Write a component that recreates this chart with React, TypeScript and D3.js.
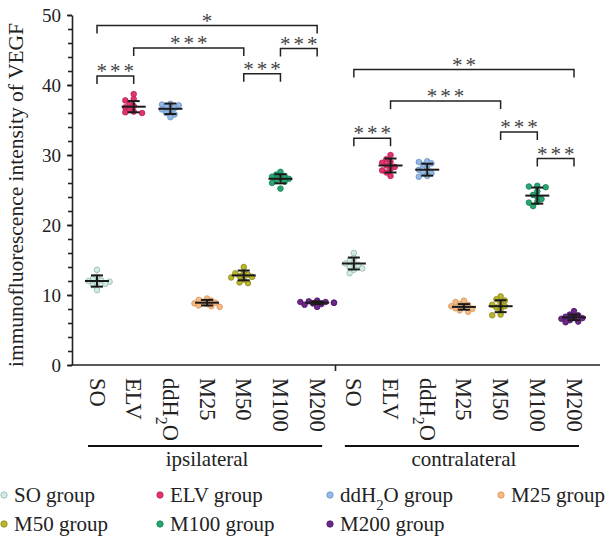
import React, { useEffect, useRef } from 'react';
import * as d3 from 'd3';

// groups and sides
const groups = ['SO', 'ELV', 'ddH2O', 'M25', 'M50', 'M100', 'M200'];
const sides = ['ipsilateral', 'contralateral'];
const groupFill = ['#d2ebe4', '#e2336f', '#94b9e4', '#f6b984', '#bab62c', '#27a672', '#6c2888'];
const groupStroke = ['#8fb9ad', '#b71f53', '#6890c6', '#d8955b', '#8c881a', '#178050', '#4a1663'];

// mean / SD
const ipsiMeans = [12.0, 36.9, 36.6, 8.9, 12.8, 26.6, 8.9];
const ipsiSD = [0.8, 0.8, 0.75, 0.4, 0.7, 0.65, 0.2];
const contraMeans = [14.5, 28.5, 27.9, 8.3, 8.4, 24.2, 6.8];
const contraSD = [0.85, 1.0, 0.85, 0.4, 0.85, 1.15, 0.4];

// individual points
const ipsiPoints = [
  [13.6, 12.6, 12.3, 12.1, 12.0, 11.9, 11.8, 11.6, 11.4, 10.7],
  [38.7, 38.0, 37.8, 37.4, 37.0, 36.8, 36.5, 36.2, 36.0, 36.1],
  [37.3, 37.2, 37.1, 36.9, 36.7, 36.5, 36.3, 36.0, 35.8, 35.4],
  [9.5, 9.3, 9.2, 9.0, 8.9, 8.8, 8.7, 8.5, 8.4, 8.3],
  [14.0, 13.3, 13.1, 12.9, 12.7, 12.6, 12.5, 12.2, 11.8, 11.7],
  [27.6, 27.2, 27.0, 26.9, 26.7, 26.6, 26.4, 26.2, 26.0, 25.2],
  [9.2, 9.1, 9.0, 9.0, 8.9, 8.9, 8.8, 8.7, 8.6, 8.3],
];
const contraPoints = [
  [16.0, 15.3, 14.9, 14.6, 14.5, 14.3, 14.0, 13.8, 13.6, 13.1],
  [30.0, 29.4, 29.0, 28.9, 28.5, 28.3, 28.0, 27.8, 27.5, 27.0],
  [29.1, 29.0, 28.8, 28.6, 28.1, 27.9, 27.6, 27.4, 27.0, 26.9],
  [9.2, 9.0, 8.7, 8.6, 8.4, 8.3, 8.1, 8.0, 7.8, 7.6],
  [9.8, 9.4, 9.2, 8.8, 8.6, 8.4, 8.2, 7.9, 7.2, 7.1],
  [25.6, 25.5, 25.4, 24.8, 24.3, 24.0, 23.7, 23.3, 23.2, 22.7],
  [7.7, 7.2, 7.1, 6.9, 6.8, 6.7, 6.6, 6.4, 6.2, 6.1],
];

// significance brackets (level in y units)
const ipsiBrackets = [
  { from: 'SO', to: 'M200', level: 48.5, label: '*' },
  { from: 'ELV', to: 'M50', level: 45.3, label: '***' },
  { from: 'SO', to: 'ELV', level: 41.3, label: '***' },
  { from: 'M50', to: 'M100', level: 41.6, label: '***' },
  { from: 'M100', to: 'M200', level: 45.2, label: '***' },
];
const contraBrackets = [
  { from: 'SO', to: 'M200', level: 42.2, label: '**' },
  { from: 'ELV', to: 'M50', level: 37.7, label: '***' },
  { from: 'SO', to: 'ELV', level: 32.4, label: '***' },
  { from: 'M50', to: 'M100', level: 33.3, label: '***' },
  { from: 'M100', to: 'M200', level: 29.5, label: '***' },
];

const yTicks = [0, 10, 20, 30, 40, 50];

const serif = '"Liberation Serif", "Times New Roman", serif';
const W = 608;
const H = 543;

const key = (side: string, g: string) => side + '-' + g;

const x = d3
  .scalePoint<string>()
  .domain(sides.flatMap((s) => groups.map((g) => key(s, g))))
  .range([97, 574]);
const y = d3.scaleLinear().domain([0, 50]).range([365, 15]);

const R = 2.8;

// simple deterministic beeswarm offsets (points may overlap a little)
function swarm(values: number[]) {
  const order = values.map((_, i) => i).sort((a, b) => values[b] - values[a]);
  const placed: { dx: number; py: number }[] = [];
  const out = new Array(values.length).fill(0);
  const cands = [0, -1, 1, -2, 2, -3, 3, -4, 4].map((k) => k * R * 1.5);
  for (const i of order) {
    const py = y(values[i]);
    let best = cands[cands.length - 1];
    for (const c of cands) {
      if (placed.every((p) => Math.hypot(p.dx - c, p.py - py) >= 1.6 * R)) {
        best = c;
        break;
      }
    }
    placed.push({ dx: best, py });
    out[i] = best;
  }
  return out;
}

const GroupLabel = ({ name }: { name: string }) =>
  name === 'ddH2O' ? (
    <>
      ddH<tspan baselineShift="sub" fontSize="0.7em">2</tspan>O
    </>
  ) : (
    <>{name}</>
  );

const YAxis = () => {
  const ref = useRef<SVGGElement>(null);
  useEffect(() => {
    const g = d3.select(ref.current);
    g.selectAll('*').remove();
    const minor = g.append('g').call(
      d3.axisLeft(y).tickValues(d3.range(0, 51, 2)).tickSize(4).tickSizeOuter(0).tickFormat(() => '')
    );
    const major = g.append('g').call(
      d3.axisLeft(y).tickValues(yTicks).tickSize(5).tickSizeOuter(0).tickPadding(6)
    );
    [minor, major].forEach((a) => {
      a.selectAll('path, line').attr('stroke', '#222').attr('stroke-width', 1.6);
    });
    minor.select('.domain').remove();
    major
      .selectAll('text')
      .attr('font-family', serif)
      .attr('font-size', 19)
      .attr('fill', '#222');
  }, []);
  return <g ref={ref} transform="translate(72,0)" />;
};

const Brackets = ({ side, list }: { side: string; list: typeof ipsiBrackets }) => (
  <g>
    {list.map((b, i) => {
      const x1 = x(key(side, b.from))!;
      const x2 = x(key(side, b.to))!;
      const yy = y(b.level);
      return (
        <g key={i}>
          <path
            d={`M${x1},${yy + 8}V${yy}H${x2}V${yy + 8}`}
            fill="none"
            stroke="#222"
            strokeWidth={1.5}
          />
          <text
            x={(x1 + x2) / 2 + 1.5}
            y={yy + 2}
            textAnchor="middle"
            fontFamily={serif}
            fontSize={21}
            letterSpacing={3}
            fill="#444"
          >
            {b.label}
          </text>
        </g>
      );
    })}
  </g>
);

const Dots = ({ side, pts, means, sds }: { side: string; pts: number[][]; means: number[]; sds: number[] }) => (
  <g>
    {groups.map((g, gi) => {
      const cx = x(key(side, g))!;
      const offs = swarm(pts[gi]);
      const m = y(means[gi]);
      const hi = y(means[gi] + sds[gi]);
      const lo = y(means[gi] - sds[gi]);
      return (
        <g key={g}>
          {pts[gi].map((v, i) => (
            <circle
              key={i}
              cx={cx + offs[i]}
              cy={y(v)}
              r={R}
              fill={groupFill[gi]}
              stroke={groupStroke[gi]}
              strokeWidth={0.8}
            />
          ))}
          <g stroke="#1a1a1a" strokeWidth={2}>
            <line x1={cx - 12} x2={cx + 12} y1={m} y2={m} />
            <line x1={cx} x2={cx} y1={hi} y2={lo} />
            <line x1={cx - 6} x2={cx + 6} y1={hi} y2={hi} />
            <line x1={cx - 6} x2={cx + 6} y1={lo} y2={lo} />
          </g>
        </g>
      );
    })}
  </g>
);

const legendCols = [0, 156, 326, 497];

export default function App() {
  const split = (x(key('ipsilateral', 'M200'))! + x(key('contralateral', 'SO'))!) / 2;
  return (
    <svg width={W} height={H} style={{ position: 'absolute', left: 0, top: 0, background: '#fff' }}>
      <YAxis />
      {/* x axis */}
      <line x1={71.2} x2={600} y1={y(0)} y2={y(0)} stroke="#222" strokeWidth={1.6} />
      <line x1={split} x2={split} y1={y(0)} y2={y(0) + 6} stroke="#222" strokeWidth={1.6} />

      {/* y label */}
      <text
        transform={`translate(23,${(y(0) + y(50)) / 2 + 5}) rotate(-90)`}
        textAnchor="middle"
        fontFamily={serif}
        fontSize={21.5}
        fill="#222"
      >
        immunofluorescence intensity of VEGF
      </text>

      <Dots side="ipsilateral" pts={ipsiPoints} means={ipsiMeans} sds={ipsiSD} />
      <Dots side="contralateral" pts={contraPoints} means={contraMeans} sds={contraSD} />
      <Brackets side="ipsilateral" list={ipsiBrackets} />
      <Brackets side="contralateral" list={contraBrackets} />

      {/* category labels */}
      {sides.map((s) =>
        groups.map((g) => (
          <text
            key={key(s, g)}
            transform={`translate(${x(key(s, g))},${y(0) + 13}) rotate(90)`}
            dominantBaseline="central"
            fontFamily={serif}
            fontSize={22.5}
            fill="#222"
          >
            <GroupLabel name={g} />
          </text>
        ))
      )}

      {/* side underline + label */}
      {sides.map((s) => {
        const a = x(key(s, groups[0]))!;
        const b = x(key(s, groups[groups.length - 1]))!;
        return (
          <g key={s}>
            <line x1={a - 9} x2={b + 5} y1={446} y2={446} stroke="#111" strokeWidth={2} />
            <text x={(a + b) / 2} y={466} textAnchor="middle" fontFamily={serif} fontSize={21} fill="#222">
              {s}
            </text>
          </g>
        );
      })}

      {/* legend */}
      {groups.map((g, i) => {
        const col = i < 4 ? i : i - 4;
        const row = i < 4 ? 0 : 1;
        const lx = legendCols[col];
        const ly = 495 + row * 29;
        return (
          <g key={g}>
            <circle cx={lx + 4} cy={ly} r={3.2} fill={groupFill[i]} stroke={groupStroke[i]} strokeWidth={0.8} />
            <text x={lx + 14} y={ly + 6.5} fontFamily={serif} fontSize={21} fill="#222">
              <GroupLabel name={g} /> group
            </text>
          </g>
        );
      })}
    </svg>
  );
}
